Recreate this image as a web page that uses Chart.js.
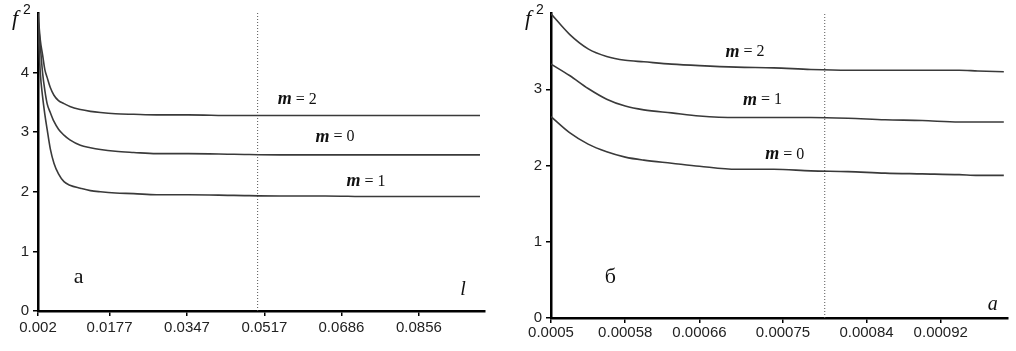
<!DOCTYPE html>
<html>
<head>
<meta charset="utf-8">
<script src="https://cdn.jsdelivr.net/npm/chart.js@4/dist/chart.umd.min.js"></script>
<style>
  body { margin: 0; background: #fff; }
  .box { position: absolute; top: 0; height: 351px; }
  #boxA { left: 0; width: 500px; }
  #boxB { left: 508px; width: 508px; }
</style>
</head>
<body>
<div class="box" id="boxA"><canvas id="chartA"></canvas></div>
<div class="box" id="boxB"><canvas id="chartB"></canvas></div>
<script>
// панель а: f^2 от l
var lVals = [0.002, 0.0025, 0.003, 0.0035, 0.004, 0.0047, 0.0055, 0.0065, 0.0077, 0.009, 0.0113, 0.0135, 0.0157, 0.019, 0.023, 0.028, 0.035, 0.045, 0.055, 0.065, 0.075, 0.085, 0.099];
var aM2 = [5.0, 4.55, 4.3, 4.05, 3.92, 3.75, 3.62, 3.53, 3.48, 3.43, 3.38, 3.35, 3.33, 3.31, 3.30, 3.29, 3.29, 3.28, 3.28, 3.28, 3.28, 3.28, 3.28];
var aM0 = [4.9, 4.45, 4.0, 3.7, 3.48, 3.33, 3.18, 3.05, 2.95, 2.87, 2.78, 2.74, 2.71, 2.68, 2.66, 2.64, 2.64, 2.63, 2.62, 2.62, 2.62, 2.62, 2.62];
var aM1 = [4.8, 4.0, 3.6, 3.3, 3.05, 2.72, 2.48, 2.30, 2.17, 2.11, 2.06, 2.02, 2.00, 1.98, 1.97, 1.95, 1.95, 1.94, 1.93, 1.93, 1.92, 1.92, 1.92];
var lMark = 0.0502;
var xTicksA = [0.002, 0.0177, 0.0347, 0.0517, 0.0686, 0.0856];
var yTicksA = [0, 1, 2, 3, 4];

// панель б: f^2 от a
var aVals = [0.0005, 0.00052, 0.00054, 0.00056, 0.00058, 0.0006, 0.00063, 0.00066, 0.0007, 0.00074, 0.00078, 0.00082, 0.00086, 0.0009, 0.00094, 0.00096, 0.000988];
var bM2 = [3.99, 3.72, 3.53, 3.43, 3.38, 3.36, 3.33, 3.31, 3.29, 3.28, 3.26, 3.25, 3.25, 3.25, 3.25, 3.24, 3.23];
var bM1 = [3.33, 3.18, 3.01, 2.87, 2.78, 2.73, 2.69, 2.65, 2.63, 2.63, 2.63, 2.62, 2.60, 2.59, 2.57, 2.57, 2.57];
var bM0 = [2.64, 2.43, 2.28, 2.18, 2.11, 2.07, 2.03, 1.99, 1.95, 1.95, 1.93, 1.92, 1.90, 1.89, 1.88, 1.87, 1.87];
var aMark = 0.000795;
var xTicksB = [0.0005, 0.00058, 0.00066, 0.00075, 0.00084, 0.00092];
var yTicksB = [0, 1, 2, 3];

function pts(xs, ys) {
  return xs.map(function(x, i) { return { x: x, y: ys[i] }; });
}

function curve(xs, ys) {
  return {
    data: pts(xs, ys),
    borderColor: '#3a3a3a',
    borderWidth: 1.6,
    pointRadius: 0,
    cubicInterpolationMode: 'monotone',
    fill: false
  };
}

function marker(x, top) {
  return {
    data: [{ x: x, y: 0 }, { x: x, y: top }],
    borderColor: '#555',
    borderWidth: 1,
    borderDash: [1, 2],
    pointRadius: 0,
    fill: false
  };
}

// подписи кривых и панелей
function notesPlugin(notes, letter, axisName) {
  return {
    id: 'notes',
    afterDatasetsDraw: function(chart) {
      var c = chart.ctx, xs = chart.scales.x, ys = chart.scales.y;
      var area = chart.chartArea;
      c.save();
      c.fillStyle = '#111';
      c.textBaseline = 'middle';
      notes.forEach(function(n) {
        var px = xs.getPixelForValue(n.x), py = ys.getPixelForValue(n.y);
        c.font = 'italic bold 18px "Liberation Serif"';
        var w1 = c.measureText('m').width;
        c.font = '16px "Liberation Serif"';
        var rest = ' = ' + n.m;
        var w2 = c.measureText(rest).width;
        var x0 = px - (w1 + w2) / 2;
        c.font = 'italic bold 18px "Liberation Serif"';
        c.textAlign = 'left';
        c.fillText('m', x0, py);
        c.font = '16px "Liberation Serif"';
        c.fillText(rest, x0 + w1, py);
      });
      c.textAlign = 'center';
      c.font = '22px "Liberation Serif"';
      c.fillText(letter.t, xs.getPixelForValue(letter.x), ys.getPixelForValue(letter.y));
      c.font = 'italic 20px "Liberation Serif"';
      c.fillText(axisName.t, xs.getPixelForValue(axisName.x), ys.getPixelForValue(axisName.y));
      // f^2
      c.font = 'italic 22px "Liberation Serif"';
      c.fillText('f', area.left - 23, area.top + 6);
      c.font = '14px "Liberation Sans"';
      c.fillText('2', area.left - 11, area.top - 3);
      c.restore();
    }
  };
}

function makeChart(id, sets, xMin, xMax, yMax, xTicks, yTicks, yWidth, xHeight, padRight, tickPad, plugin) {
  return new Chart(document.getElementById(id).getContext('2d'), {
    type: 'line',
    data: { datasets: sets },
    options: {
      responsive: true,
      maintainAspectRatio: false,
      animation: false,
      layout: { padding: { left: 0, top: 13, right: padRight, bottom: 0 } },
      plugins: { legend: { display: false }, tooltip: { enabled: false } },
      scales: {
        x: {
          type: 'linear',
          min: xMin,
          max: xMax,
          afterBuildTicks: function(s) { s.ticks = xTicks.map(function(v) { return { value: v }; }); },
          afterFit: function(s) { s.height = xHeight; s.paddingLeft = 0; s.paddingRight = 0; },
          border: { color: '#000', width: 2.5 },
          grid: { drawOnChartArea: false, drawTicks: true, tickLength: 5, color: '#000', lineWidth: 1.5 },
          ticks: {
            autoSkip: false,
            maxRotation: 0,
            padding: tickPad,
            color: '#222',
            font: { family: '"Liberation Sans"', size: 15 },
            callback: function(v) { return String(v); }
          }
        },
        y: {
          min: 0,
          max: yMax,
          afterBuildTicks: function(s) { s.ticks = yTicks.map(function(v) { return { value: v }; }); },
          afterFit: function(s) { s.width = yWidth; s.paddingTop = 0; s.paddingBottom = 0; },
          border: { color: '#000', width: 2.5 },
          grid: { drawOnChartArea: false, drawTicks: true, tickLength: 5, color: '#000', lineWidth: 1.5 },
          ticks: {
            padding: 4,
            color: '#222',
            font: { family: '"Liberation Sans"', size: 15 }
          }
        }
      }
    },
    plugins: [plugin]
  });
}

makeChart('chartA',
  [curve(lVals, aM2), curve(lVals, aM0), curve(lVals, aM1), marker(lMark, 5)],
  0.002, 0.1001, 5, xTicksA, yTicksA, 38, 40, 15, 3,
  notesPlugin(
    [{ m: 2, x: 0.0589, y: 3.55 }, { m: 0, x: 0.0672, y: 2.92 }, { m: 1, x: 0.074, y: 2.17 }],
    { t: 'а', x: 0.0109, y: 0.57 },
    { t: 'l', x: 0.0953, y: 0.35 }
  ));

makeChart('chartB',
  [curve(aVals, bM2), curve(aVals, bM1), curve(aVals, bM0), marker(aMark, 4)],
  0.0005, 0.0009925, 4, xTicksB, yTicksB, 43, 33, 8, 1,
  notesPlugin(
    [{ m: 2, x: 0.000709, y: 3.49 }, { m: 1, x: 0.000728, y: 2.86 }, { m: 0, x: 0.000752, y: 2.14 }],
    { t: 'б', x: 0.000564, y: 0.54 },
    { t: 'a', x: 0.000976, y: 0.17 }
  ));
</script>
</body>
</html>
